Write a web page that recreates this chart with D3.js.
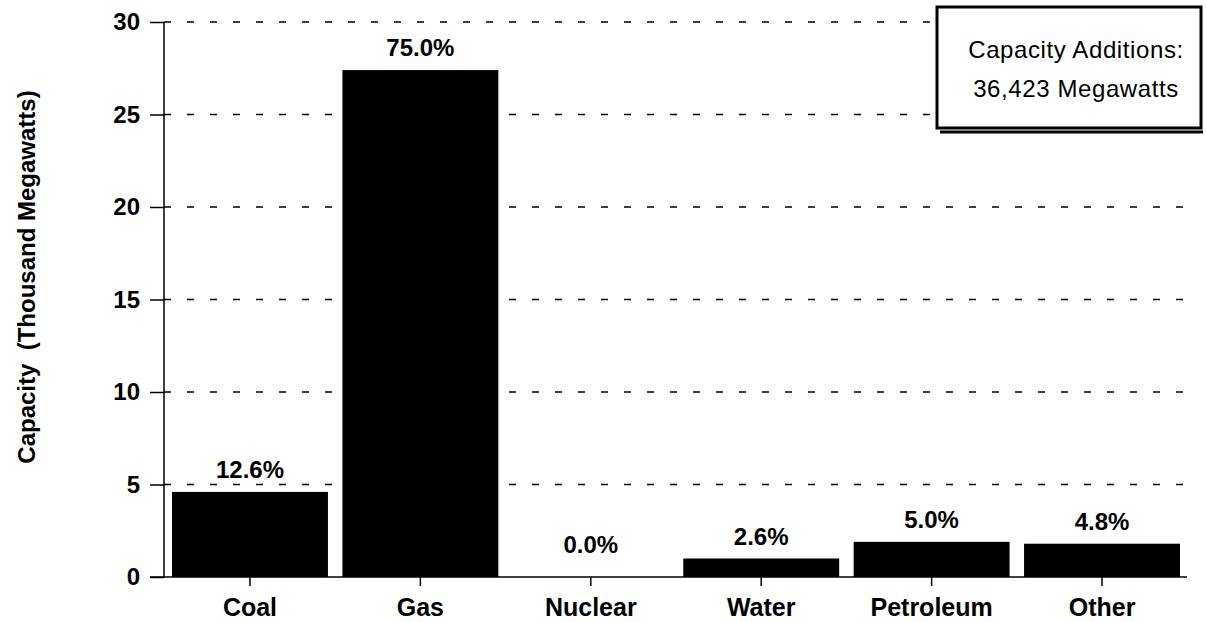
<!DOCTYPE html>
<html>
<head>
<meta charset="utf-8">
<script src="https://cdn.jsdelivr.net/npm/d3@7"></script>
<style>
  html, body { margin: 0; padding: 0; background: #fff; }
  svg text { font-family: "Liberation Sans", Arial, Helvetica, sans-serif; fill: #000; }
</style>
</head>
<body>
<div id="chart"></div>
<script>
const categorias = ["Coal", "Gas", "Nuclear", "Water", "Petroleum", "Other"];
const capacidad = [4.6, 27.4, 0, 1.0, 1.9, 1.8];
const porcentajes = ["12.6%", "75.0%", "0.0%", "2.6%", "5.0%", "4.8%"];
const ticksY = [0, 5, 10, 15, 20, 25, 30];
const tituloY = "Capacity  (Thousand Megawatts)";
const cuadroTexto = ["Capacity Additions:", "36,423 Megawatts"];

const width = 1206;
const height = 622;
const margin = { top: 22, right: 18, bottom: 45, left: 164 };

const svg = d3.select("#chart")
  .append("svg")
  .attr("width", width)
  .attr("height", height);

const x = d3.scaleBand()
  .domain(categorias)
  .range([margin.left, width - margin.right])
  .paddingInner(0.085)
  .paddingOuter(0.047);

const y = d3.scaleLinear()
  .domain([0, 30])
  .range([height - margin.bottom, margin.top]);

// lineas de rejilla punteadas
svg.append("g")
  .selectAll("line")
  .data(ticksY.filter((d) => d > 0))
  .enter()
  .append("line")
  .attr("x1", margin.left)
  .attr("x2", width - margin.right)
  .attr("y1", (d) => y(d))
  .attr("y2", (d) => y(d))
  .attr("stroke", "#000")
  .attr("stroke-width", 1.5)
  .attr("stroke-dasharray", "7,16");

// barras
svg.append("g")
  .selectAll("rect")
  .data(capacidad)
  .enter()
  .append("rect")
  .attr("x", (d, i) => x(categorias[i]))
  .attr("width", x.bandwidth())
  .attr("y", (d) => y(d))
  .attr("height", (d) => y(0) - y(d))
  .attr("fill", "#000");

// etiquetas de porcentaje
svg.append("g")
  .selectAll("text")
  .data(capacidad)
  .enter()
  .append("text")
  .attr("x", (d, i) => x(categorias[i]) + x.bandwidth() / 2)
  .attr("y", (d, i) => y(d) - (d === 0 ? 24 : 14))
  .attr("text-anchor", "middle")
  .attr("font-size", 24)
  .attr("font-weight", "bold")
  .text((d, i) => porcentajes[i]);

// eje Y
const ejeY = svg.append("g")
  .attr("transform", `translate(${margin.left},0)`)
  .call(d3.axisLeft(y).tickValues(ticksY).tickSize(14).tickPadding(10));

ejeY.select(".domain").attr("stroke-width", 1.5).attr("d", `M0,${y(0)}V${y(30)}`);
ejeY.selectAll(".tick line").attr("stroke-width", 1.5);
ejeY.selectAll(".tick text")
  .attr("font-size", 24)
  .attr("font-weight", "bold")
  .attr("font-family", "'Liberation Sans', Arial, sans-serif");

// eje X
const ejeX = svg.append("g")
  .attr("transform", `translate(0,${y(0)})`)
  .call(d3.axisBottom(x).tickSize(9).tickPadding(12));

ejeX.select(".domain")
  .attr("stroke-width", 1.5)
  .attr("d", `M${margin.left - 14},0H${width - margin.right - 1}`);
ejeX.selectAll(".tick line").attr("stroke-width", 1.5);
ejeX.selectAll(".tick text")
  .attr("font-size", 25)
  .attr("font-weight", "bold")
  .attr("font-family", "'Liberation Sans', Arial, sans-serif");

// titulo del eje Y
svg.append("text")
  .attr("transform", `translate(35,${277}) rotate(-90)`)
  .attr("text-anchor", "middle")
  .attr("font-size", 24)
  .attr("font-weight", "bold")
  .style("white-space", "pre")
  .text(tituloY);

// cuadro de texto
const cuadro = svg.append("g");
cuadro.append("line")
  .attr("x1", 940)
  .attr("x2", 1203)
  .attr("y1", 132)
  .attr("y2", 132)
  .attr("stroke", "#000")
  .attr("stroke-width", 3);
cuadro.append("rect")
  .attr("x", 937)
  .attr("y", 7)
  .attr("width", 264)
  .attr("height", 121)
  .attr("fill", "#fff")
  .attr("stroke", "#000")
  .attr("stroke-width", 3);
cuadro.selectAll("text")
  .data(cuadroTexto)
  .enter()
  .append("text")
  .attr("x", 1076)
  .attr("y", (d, i) => 58 + i * 39)
  .attr("text-anchor", "middle")
  .attr("font-size", 24)
  .attr("letter-spacing", 0.6)
  .text((d) => d);
</script>
</body>
</html>
